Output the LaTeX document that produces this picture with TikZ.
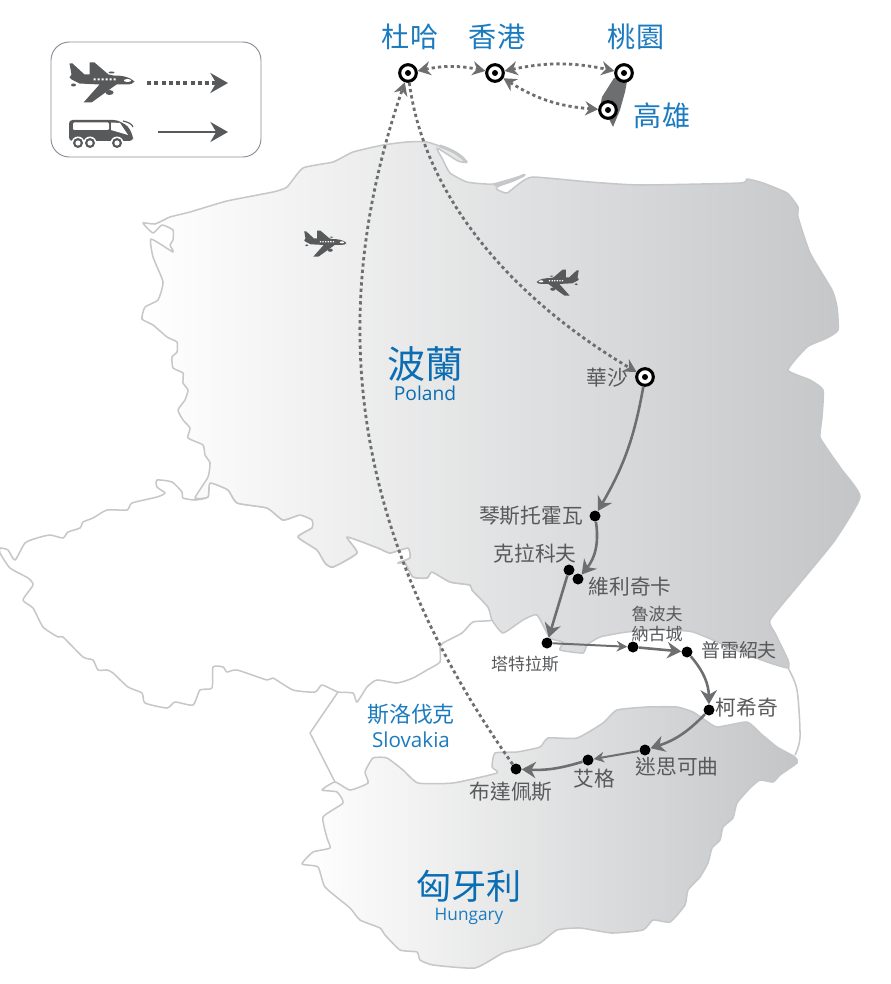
\documentclass[tikz,border=0pt]{standalone}
\usepackage{fontspec}
\setmainfont{Open Sans}
\newfontfamily\cjk{Noto Sans CJK TC}
\usetikzlibrary{arrows.meta}
\definecolor{mapedge}{HTML}{C6C7C9}
\definecolor{mapdark}{HTML}{C4C5C7}
\definecolor{routegray}{HTML}{6D6E70}
\definecolor{icongray}{HTML}{58595B}
\definecolor{cityblue}{HTML}{1C7BBF}
\definecolor{landblue}{HTML}{0B6DB3}
\definecolor{keyedge}{HTML}{8C8C98}
\begin{document}
\begin{tikzpicture}[
    x=0.03cm, y=-0.03cm,
    border/.style={draw=mapedge, line width=1.3pt, line join=round},
    hub/.style={circle, draw=black, fill=white, line width=2.6pt, minimum size=0.5cm, inner sep=0pt,
      path picture={\fill[black] (path picture bounding box.center) circle (0.09cm);}},
    stop/.style={circle, fill=black, minimum size=0.33cm, inner sep=0pt},
    hublabel/.style={text=cityblue, inner sep=0pt, font=\cjk\fontsize{24}{26}\selectfont},
    citylabel/.style={text=icongray, inner sep=0pt, font=\cjk\fontsize{17.7}{19}\selectfont},
    smalllabel/.style={text=icongray, inner sep=0pt, align=center, font=\cjk\fontsize{14.5}{16.3}\selectfont},
    landlabel/.style={text=landblue, inner sep=0pt},
    flight/.style={draw=routegray, line width=2.4pt, dash pattern=on 2.8pt off 2.6pt,
      >={Stealth[length=11pt, width=12pt, fill=routegray]}},
    coach/.style={draw=routegray, line width=2.2pt, >={Stealth[length=12pt, width=14pt, fill=routegray]}},
    thincoach/.style={draw=routegray, line width=1.7pt, >={Stealth[length=9pt, width=9pt, fill=routegray]}},
    keyarrow/.style={>={Stealth[length=15pt, width=17pt, fill=icongray]}, draw=icongray},
    plane/.pic={
      \fill[icongray] (33,0) .. controls (28,-5) and (20,-6) .. (12,-6) -- (7,-7) -- (-7,-19) -- (-12,-19)
        -- (-12,-7) -- (-17,-7) -- (-29,-18) -- (-32,-18) -- (-30,-7) -- (-32,-4) -- (-30,-2) -- (-22,2)
        -- (-2,3) -- (-18,21) -- (-10,21) -- (15,3) -- (25,3) .. controls (29,3) and (32,2) .. (33,0) -- cycle;
      \fill[icongray] (8,11) ellipse (4 and 2.5);
      \fill[icongray] (-28,3.5) ellipse (2.5 and 1.5);
      \fill[icongray] (10,-9) ellipse (3 and 1);
      \fill[white] (-8,-3) rectangle +(2,2) (-4,-3) rectangle +(2,2) (0,-3) rectangle +(2,2)
        (4,-3) rectangle +(2,2) (8,-3) rectangle +(2,2) (12,-3) rectangle +(2,2);
      \fill[white] (26,-1) ellipse (3.5 and 1.5);
    },
    bus/.pic={
      \fill[icongray, rounded corners=3pt] (-32,9) -- (-32,-12) -- (16,-12) -- (27,-6) -- (32,4) -- (32,9) -- cycle;
      \draw[icongray, line width=1pt] (22,-11) .. controls (27,-10) and (31,-8) .. (32,-5);
      \fill[white, rounded corners=1pt] (-28,-9.5) rectangle (8,-2);
      \fill[white] (10,-9.5) -- (19,-9) -- (27,3) -- (10,-2) -- cycle;
      \fill[white] (-23,11) circle (6.5) (-11,11) circle (6.5) (16,11) circle (6.5);
      \fill[icongray] (-23,11) circle (5) (-11,11) circle (5) (16,11) circle (5);
      \fill[white] (-23,11) circle (2.6) (-11,11) circle (2.6) (16,11) circle (2.6);
    }
  ]
  % Fixes the page to the reference proportions
  \useasboundingbox (0,0) rectangle (890,984);

  % Czech Republic
  \path[border, fill=white]
    plot[smooth cycle, tension=0.35] coordinates {
      (0,548) (8,550) (15,560) (25,543) (37,538) (50,535) (63,538) (68,532) (80,528) (83,522) (93,518)
      (107,510) (127,510) (132,503) (157,497) (165,493) (157,487) (157,480) (172,482) (182,492) (183,498)
      (195,500) (208,497) (210,483) (228,490) (237,503) (267,508) (283,520) (300,515) (312,520) (312,528)
      (298,537) (317,550) (325,563) (333,567) (357,553) (347,537) (378,548) (390,553) (408,548) (410,558)
      (398,563) (405,563) (413,577) (427,578) (432,572) (450,582) (470,585) (472,590) (488,607) (492,620)
      (473,622) (462,633) (443,643) (440,648) (440,662) (427,670) (413,678) (397,683) (377,680) (367,687)
      (357,702) (353,693) (338,692) (322,685) (315,692) (293,690) (273,678) (267,680) (237,670) (227,672)
      (223,667) (213,667) (212,688) (200,690) (193,705) (175,702) (167,708) (145,703) (142,693) (128,687)
      (113,673) (107,670) (98,670) (93,660) (83,657) (63,637) (58,637) (43,627) (33,608) (23,600) (33,585)
      (28,578) (10,568) (0,553)};

  % Slovakia, open ends meet the neighbours
  \draw[border] (338,692) -- (310,733) -- (335,782);
  \draw[border] plot[smooth, tension=0.5] coordinates {(788,668) (797,690) (800,737) (795,755)};

  % Poland
  \path[border, left color=white, right color=mapdark]
    plot[smooth cycle, tension=0.3] coordinates {
      (143,223) (155,224) (170,217) (190,212) (227,201) (273,192) (287,187) (303,168) (333,162) (353,152)
      (383,145) (407,142) (427,142) (450,150) (467,162) (458,161) (437,148) (443,160) (450,173) (467,182)
      (493,184) (525,175) (497,187) (498,190) (507,193) (520,183) (533,177) (590,182) (640,185) (740,183)
      (747,179) (763,183) (787,193) (798,207) (798,217) (810,253) (832,290) (837,307) (838,330) (827,338)
      (807,347) (788,370) (810,380) (823,390) (822,417) (820,437) (830,453) (842,470) (860,497) (835,540)
      (800,583) (770,620) (775,633) (788,660) (788,668) (770,663) (743,653) (693,632) (660,630) (627,632)
      (600,637) (587,645) (583,653) (560,650) (563,642) (550,638) (537,615) (523,620) (503,633) (492,620)
      (488,607) (472,590) (470,585) (450,582) (432,572) (427,578) (413,577) (405,563) (398,563) (410,558)
      (408,548) (390,553) (378,548) (347,537) (357,553) (333,567) (325,563) (317,550) (298,537) (312,528)
      (312,520) (300,515) (283,520) (267,508) (237,503) (228,490) (210,483) (208,497) (195,498) (208,477)
      (210,463) (205,455) (203,445) (188,438) (190,428) (183,420) (178,410) (185,400) (188,390) (183,383)
      (183,373) (173,368) (172,357) (177,352) (177,342) (167,337) (153,325) (142,319) (145,307) (158,300)
      (163,282) (153,257) (151,239) (173,252) (170,245) (173,240) (173,230) (162,225) (153,233)};

  % The two sand spits on the coast
  \draw[mapedge, line width=2.6pt, line cap=round] (440,146) .. controls (452,150) and (461,155) .. (466,162);
  \draw[mapedge, line width=2.4pt, line cap=round] (495,185) .. controls (505,184) and (515,180) .. (524,175);

  % Hungary
  \path[border, left color=white, right color=mapdark]
    plot[smooth cycle, tension=0.3] coordinates {
      (335,782) (350,790) (368,783) (365,772) (373,758) (387,758) (403,770) (418,783) (453,783) (497,773)
      (492,767) (495,753) (517,752) (540,747) (548,738) (577,738) (603,723) (617,710) (647,707) (677,707)
      (693,712) (705,720) (717,727) (747,722) (760,733) (777,747) (795,757) (797,763) (780,775) (773,782)
      (760,780) (750,788) (737,803) (733,818) (723,827) (720,840) (712,848) (708,863) (700,877) (688,890)
      (685,905) (670,922) (653,920) (643,930) (612,933) (580,928) (557,930) (540,943) (523,948) (503,953)
      (475,968) (433,965) (420,960) (417,952) (400,950) (385,935) (380,928) (360,920) (350,908) (325,887)
      (318,867) (302,864) (313,852) (330,848) (327,838) (323,817) (343,803) (337,792) (322,790)};

  % Taiwan under the two hubs
  \fill[routegray] (614,78) -- (628,76) -- (625,92) -- (620,110) -- (613,127) -- (608,117) -- (600,107) -- (602,97) -- cycle;

  % Legend
  \draw[keyedge, line width=0.8pt, rounded corners=0.55cm] (51,42) rectangle (261,157);
  \pic (keyplane) at (101.5,81.5) {plane};
  \pic (keybus) at (101,132) {bus};
  \coordinate (keyflyfrom) at (147,83);
  \coordinate (keyflyto) at (228,83);
  \coordinate (keyroadfrom) at (158,132);
  \coordinate (keyroadto) at (228,132);
  \draw[->, keyarrow, line width=2.8pt, dash pattern=on 3.4pt off 2.8pt] (keyflyfrom) -- (keyflyto);
  \draw[->, keyarrow, line width=2.2pt] (keyroadfrom) -- (keyroadto);

  % Small planes on the map
  \pic[scale=0.65] (planewest) at (325,243) {plane};
  \pic[xscale=-0.65, yscale=0.65] (planeeast) at (558,282) {plane};

  % Airports
  \node[hub] (doha) at (408,73) {};
  \node[hub] (hongkong) at (495,73) {};
  \node[hub] (taoyuan) at (624,73) {};
  \node[hub] (kaohsiung) at (608,110) {};
  \node[hub] (warsaw) at (645,377) {};

  % Coach stops
  \node[stop] (czestochowa) at (595,516) {};
  \node[stop] (krakow) at (569,570) {};
  \node[stop] (wieliczka) at (578,579) {};
  \node[stop] (tatra) at (547,643) {};
  \node[stop] (lubovna) at (633,647) {};
  \node[stop] (presov) at (687,652) {};
  \node[stop] (kosice) at (709,710) {};
  \node[stop] (miskolc) at (645,750) {};
  \node[stop] (eger) at (588,760) {};
  \node[stop] (budapest) at (516,769) {};

  % Flights
  \draw[<->, flight] (doha) to[bend left=12] (hongkong);
  \draw[<->, flight] (hongkong) to[bend left=12] (taoyuan);
  \draw[<->, flight] (hongkong) to[bend right=14] (kaohsiung);
  \draw[->, flight]
    (doha) .. controls (425,200) and (515,300) .. (warsaw);
  \draw[->, flight]
    (budapest) .. controls (340,520) and (330,300) .. (doha);

  % Coach legs
  \draw[->, coach] (warsaw) to[bend left=10] (czestochowa);
  \draw[->, coach] (czestochowa) to[bend left=24] (wieliczka);
  \draw[->, coach] (krakow) -- (tatra);
  \draw[->, thincoach] (tatra) -- (lubovna);
  \draw[->, coach] (lubovna) -- (presov);
  \draw[->, coach] (presov) to[bend left=20] (kosice);
  \draw[->, coach] (kosice) to[bend left=14] (miskolc);
  \draw[->, thincoach] (miskolc) -- (eger);
  \draw[->, coach] (eger) to[bend left=10] (budapest);

  % Airport names
  \node[hublabel] (dohaname) at (410,37) {杜哈};
  \node[hublabel] (hongkongname) at (497,37) {香港};
  \node[hublabel] (taoyuanname) at (636,37) {桃園};
  \node[hublabel] (kaohsiungname) at (662,116) {高雄};
  \node[citylabel] (warsawname) at (607,378) {華沙};

  % Stop names
  \node[citylabel] (czestochowaname) at (531,516) {琴斯托霍瓦};
  \node[citylabel] (krakowname) at (535,554) {克拉科夫};
  \node[citylabel] (wieliczkaname) at (630,587) {維利奇卡};
  \node[smalllabel] (lubovnaname) at (657,624) {魯波夫\\納古城};
  \node[citylabel, font=\cjk\fontsize{16.2}{18}\selectfont] (presovname) at (739,650) {普雷紹夫};
  \node[smalllabel] (tatraname) at (525,664) {塔特拉斯};
  \node[citylabel] (kosicename) at (747,708) {柯希奇};
  \node[citylabel] (miskolcname) at (677,767) {迷思可曲};
  \node[citylabel] (egername) at (594,779) {艾格};
  \node[citylabel] (budapestname) at (511,792) {布達佩斯};

  % Country names
  \node[landlabel, font=\cjk\fontsize{32.4}{34}\selectfont] (polandzh) at (425,364) {波蘭};
  \node[landlabel, font=\fontsize{16.4}{19}\selectfont] (polanden) at (425,393) {Poland};
  \node[landlabel, text=cityblue, font=\cjk\fontsize{18.7}{20}\selectfont] (slovakiazh) at (411,714) {斯洛伐克};
  \node[landlabel, text=cityblue, font=\fontsize{17.6}{19}\selectfont] (slovakiaen) at (411,740) {Slovakia};
  \node[landlabel, font=\cjk\fontsize{30}{32}\selectfont] (hungaryzh) at (469,886) {匈牙利};
  \node[landlabel, text=cityblue, font=\fontsize{14.7}{16}\selectfont] (hungaryen) at (469,916) {Hungary};
\end{tikzpicture}
\end{document}
